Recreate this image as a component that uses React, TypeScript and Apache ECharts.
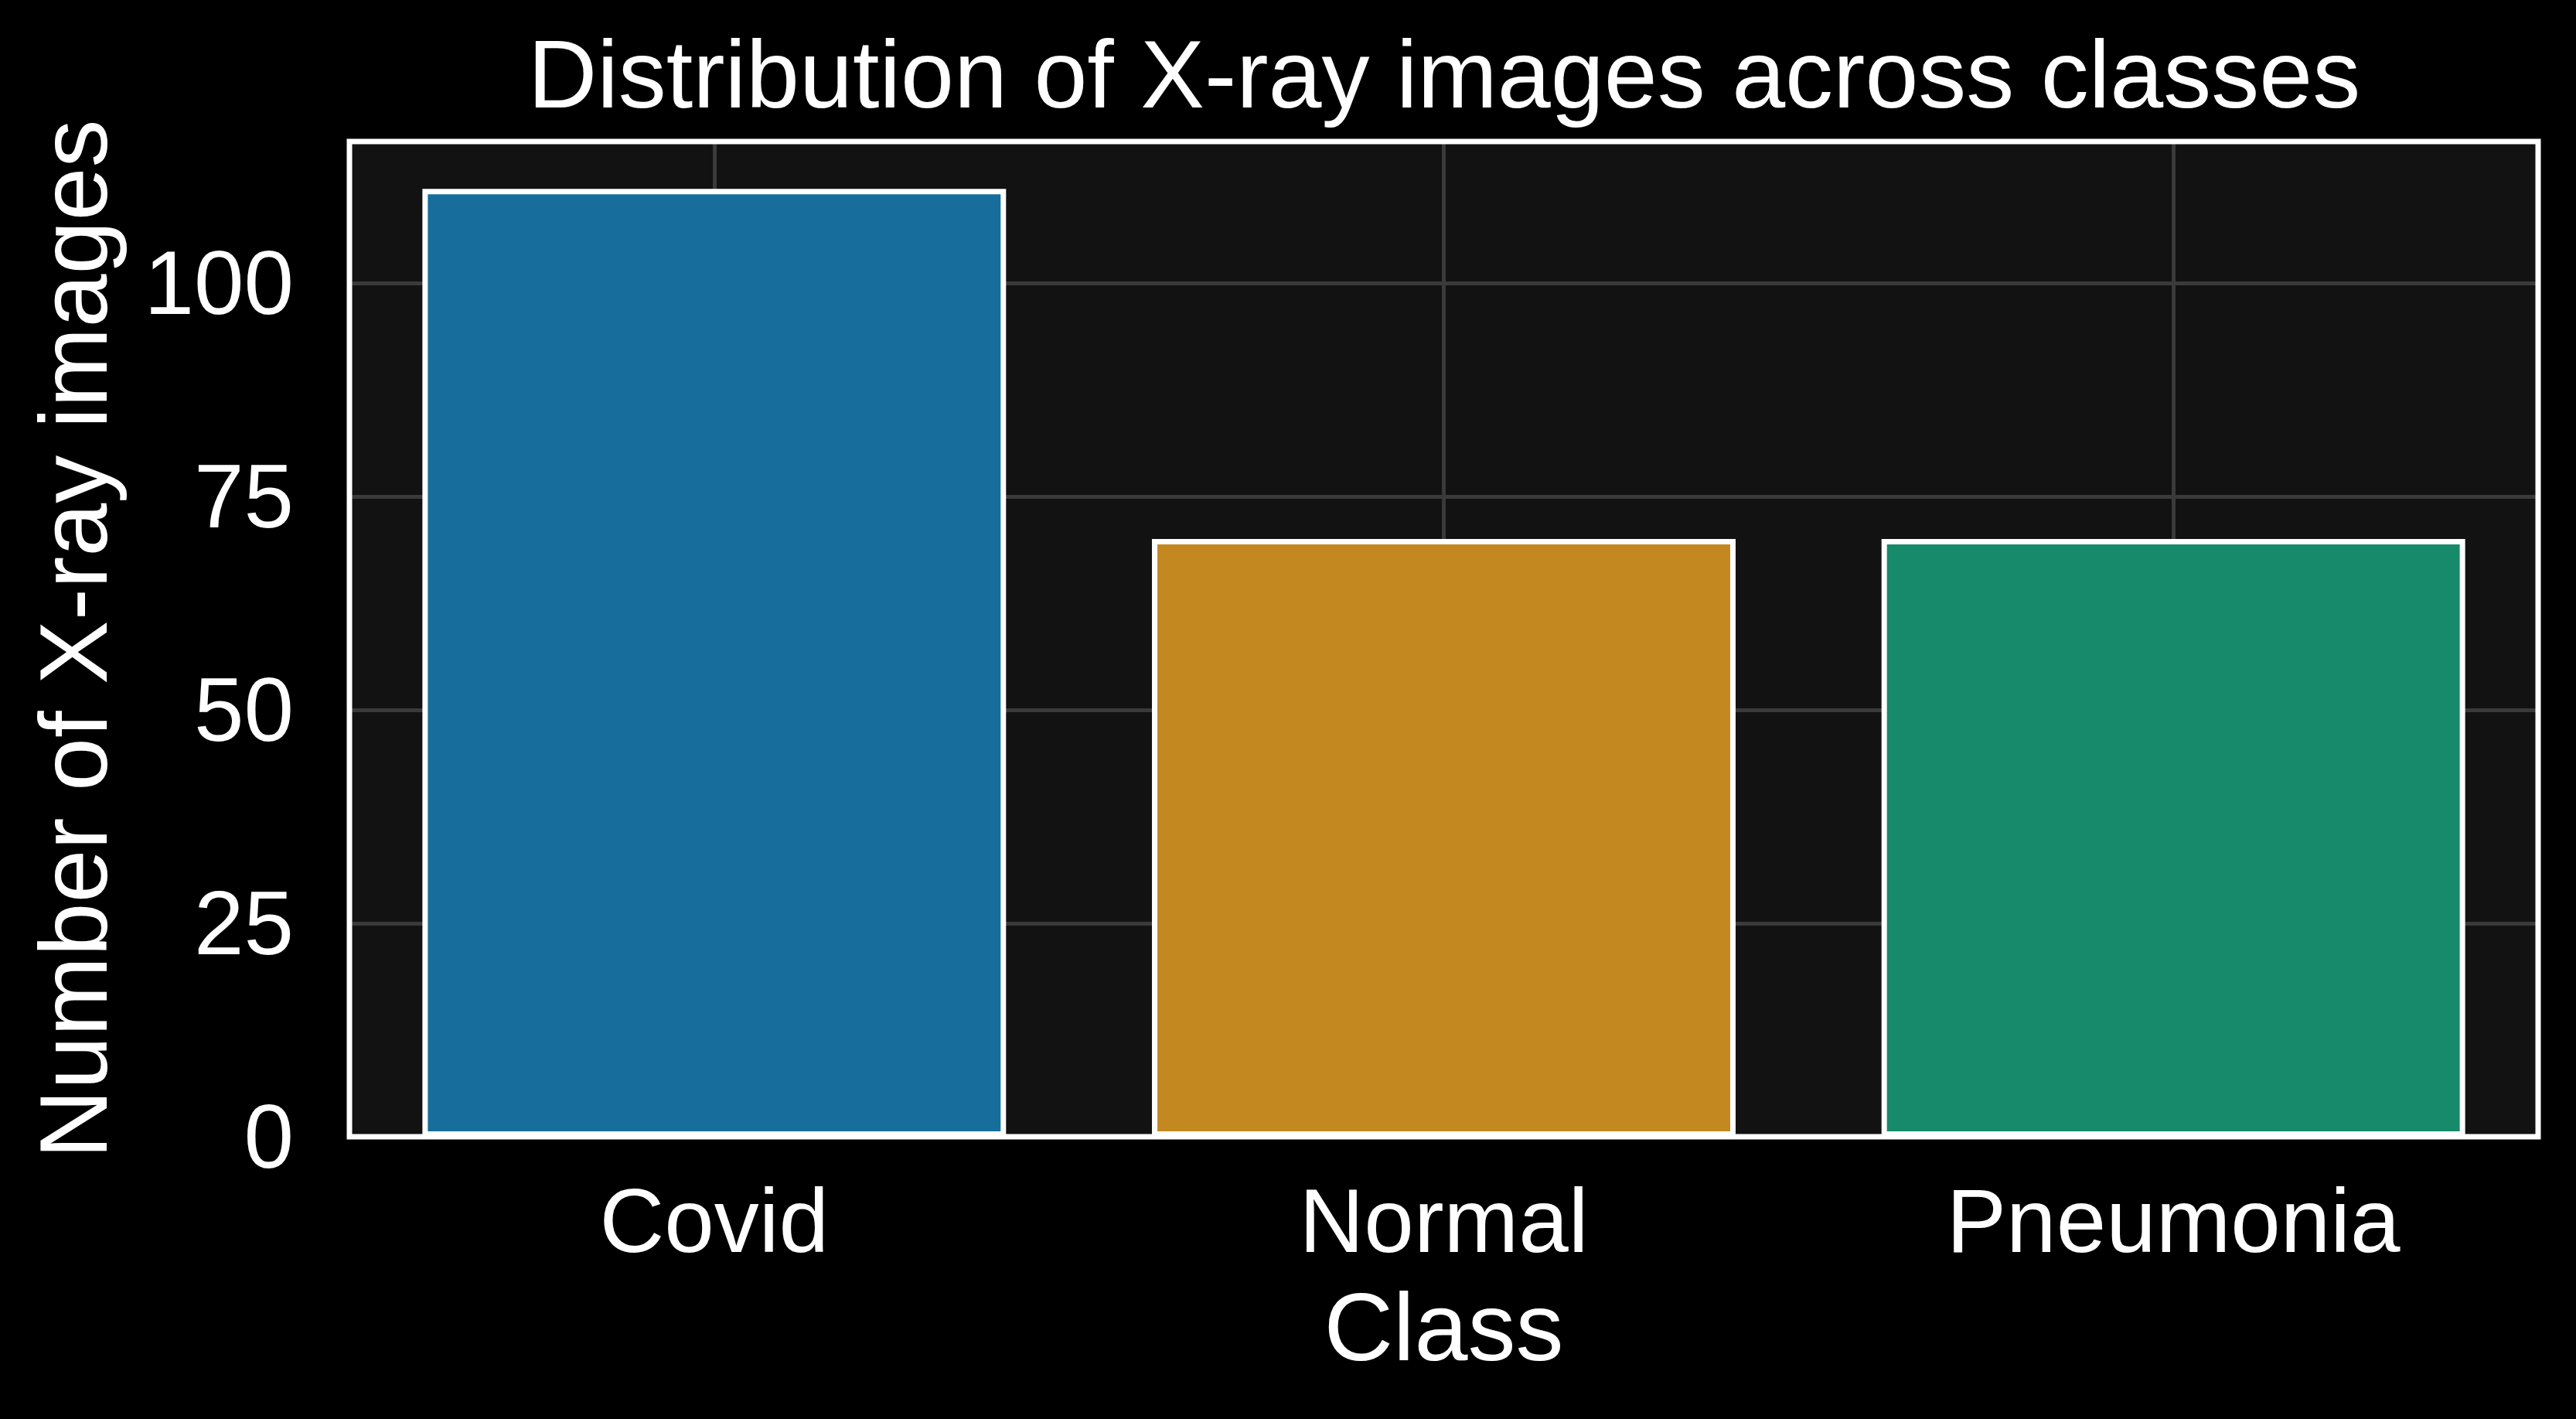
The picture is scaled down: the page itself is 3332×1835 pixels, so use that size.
import React, { useRef, useEffect } from "react";
import * as echarts from "echarts";

const categories = ["Covid", "Normal", "Pneumonia"];
const imageCounts = [111, 70, 70];
const barColors = ["#176D9C", "#C38820", "#168A6A"];
const yTickStep = 25;
const yMax = 116.55;

const FONT = "'Liberation Sans', Arial, Helvetica, sans-serif";

export default function App() {
  const chartRef = useRef<HTMLDivElement>(null);

  useEffect(() => {
    if (!chartRef.current) return;
    const chart = echarts.init(chartRef.current, undefined, { renderer: "svg" });

    const option = {
      animation: false,
      backgroundColor: "#000000",
      title: {
        text: "Distribution of X-ray images across classes",
        left: 1868,
        top: 34,
        padding: 0,
        textAlign: "center",
        textStyle: {
          color: "#ffffff",
          fontFamily: FONT,
          fontWeight: "normal",
          fontSize: 124,
          lineHeight: 124,
        },
      },
      // frame drawn above the bars, face colour comes from the y splitArea
      grid: {
        show: true,
        z: 3,
        left: 452,
        right: 49,
        top: 183,
        bottom: 365,
        backgroundColor: "transparent",
        borderColor: "#ffffff",
        borderWidth: 7,
      },
      xAxis: {
        type: "category",
        data: categories,
        axisLine: { show: false },
        axisTick: { show: false },
        splitLine: { show: false },
        axisLabel: {
          color: "#ffffff",
          fontFamily: FONT,
          fontSize: 116,
          lineHeight: 116,
          margin: 51,
        },
        name: "Class",
        nameLocation: "middle",
        nameGap: 184,
        nameTextStyle: {
          color: "#ffffff",
          fontFamily: FONT,
          fontSize: 124,
          lineHeight: 124,
        },
      },
      yAxis: {
        type: "value",
        min: 0,
        max: yMax,
        interval: yTickStep,
        axisLine: { show: false },
        axisTick: { show: false },
        axisLabel: {
          color: "#ffffff",
          fontFamily: FONT,
          fontSize: 116,
          lineHeight: 116,
          margin: 72,
          showMaxLabel: false,
        },
        splitLine: {
          show: true,
          lineStyle: { color: "#3a3a3a", width: 5 },
        },
        splitArea: {
          show: true,
          areaStyle: { color: ["#121212"] },
        },
        name: "Number of X-ray images",
        nameLocation: "middle",
        nameGap: 295,
        nameTextStyle: {
          color: "#ffffff",
          fontFamily: FONT,
          fontSize: 124,
          lineHeight: 124,
        },
      },
      series: [
        {
          type: "bar",
          barWidth: "80%",
          data: imageCounts.map((v, i) => ({
            value: v,
            itemStyle: { color: barColors[i] },
          })),
          itemStyle: { borderColor: "#ffffff", borderWidth: 7 },
          // vertical grid lines at the category centres, behind the bars
          markLine: {
            silent: true,
            z: 1,
            symbol: ["none", "none"],
            label: { show: false },
            lineStyle: { color: "#3a3a3a", width: 5, type: "solid" },
            data: categories.map((c) => ({ xAxis: c })),
          },
        },
      ],
    };

    chart.setOption(option);
    return () => chart.dispose();
  }, []);

  return (
    <div
      ref={chartRef}
      style={{ position: "absolute", left: 0, top: 0, width: 3332, height: 1835 }}
    />
  );
}
